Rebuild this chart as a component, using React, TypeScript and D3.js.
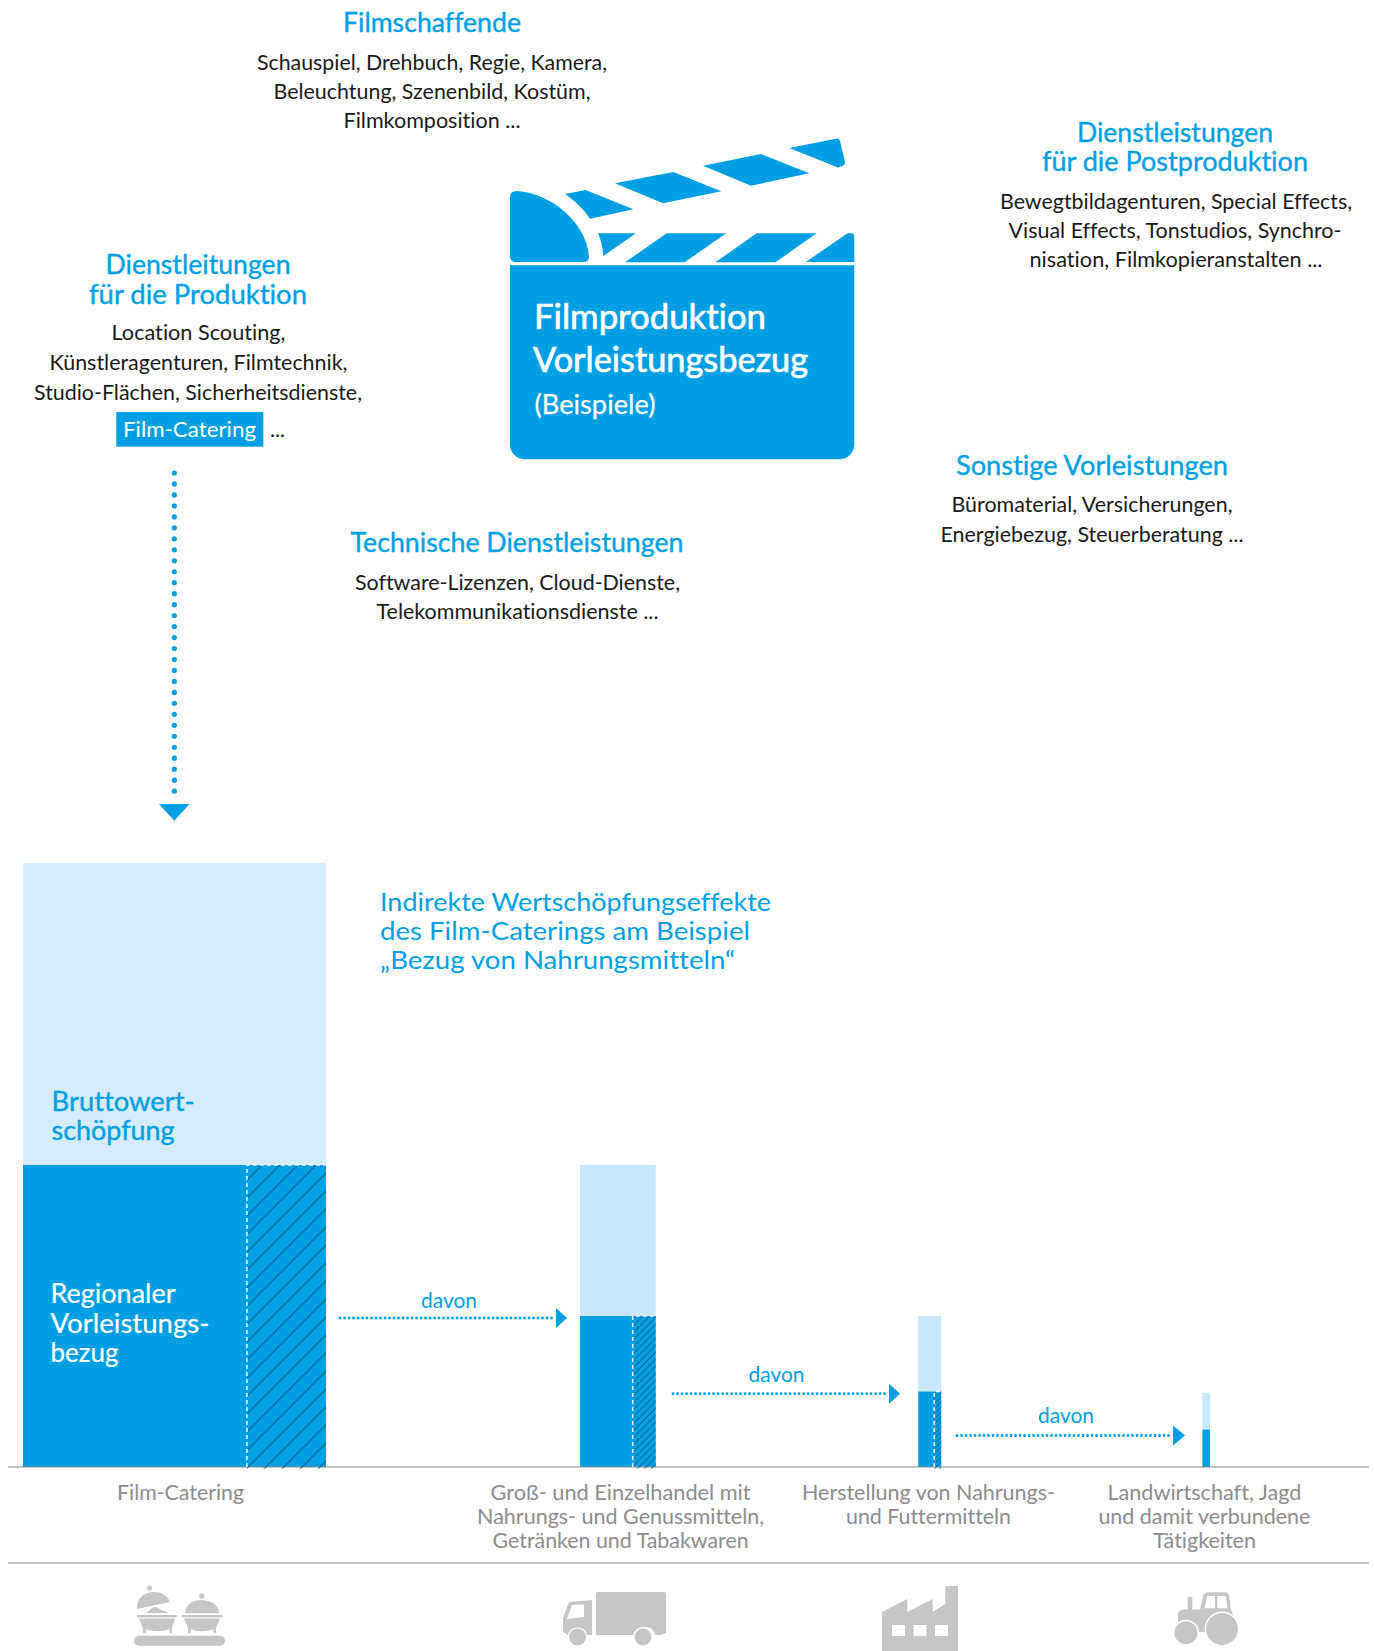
import React from "react";
import * as d3 from "d3";

// ---- data (index, Film-Catering = 100) ----
const categoryLines = [
  ["Film-Catering"],
  ["Groß- und Einzelhandel mit", "Nahrungs- und Genussmitteln,", "Getränken und Tabakwaren"],
  ["Herstellung von Nahrungs-", "und Futtermitteln"],
  ["Landwirtschaft, Jagd", "und damit verbundene", "Tätigkeiten"],
];
const bruttoValues = [100, 50, 25, 12.3];
const regionalValues = [50, 25, 12.5, 6.2];
const widthValues = [100, 25, 7.6, 2.5];
const hatchValues = [26.1, 7.6, 2.3, 0];

// ---- layout ----
const BLUE = "#009fe3";
const W = 1375, H = 1651;
const FONT = "Lato, 'Noto Sans', sans-serif";
const BASE = 1467;
const barLefts = [23, 580, 918.2, 1202.4];
const catCx = [180.5, 620.6, 928.5, 1204.4];
const catW = [[127], [260, 287, 256], [253, 165], [194, 212, 103]];
const lightFill = ["#d4ecfb", "#c9e7fa", "#c9e7fa", "#c9e7fa"];
const hatchSize = [18, 7, 5, 5];

const yScale = d3.scaleLinear().domain([0, 100]).range([BASE, 863]);
const wScale = d3.scaleLinear().domain([0, 100]).range([0, 303]);

function T({ x, y, w, size, fill = "#1a1a1a", anchor = "middle", heavy = 0, children }: any) {
  return (
    <text x={x} y={y} textAnchor={anchor} fontFamily={FONT} fontSize={size} fill={fill}
      stroke={heavy ? fill : "none"} strokeWidth={heavy}
      style={{ fontVariantLigatures: "none" }}
      textLength={w} lengthAdjust="spacingAndGlyphs">{children}</text>
  );
}

const clap = (pts: number[][]) => pts.map(([x, y]) => [480 + x / 3, 120 + y / 3]);
const poly = (pts: number[][]) => pts.map(p => p.join(",")).join(" ");

function Arrow({ x1, x2, tip, y }: any) {
  return (
    <g>
      <line x1={x1} x2={x2 - 3} y1={y} y2={y} stroke={BLUE} strokeWidth={2.8} strokeLinecap="round" strokeDasharray="0.1 4.4" />
      <polygon points={`${x2},${y - 10} ${tip},${y} ${x2},${y + 10}`} fill={BLUE} />
    </g>
  );
}

const blocks: any[] = [
  { l: "Filmschaffende", x: 432, y: 31.5, w: 178, s: 26, b: 1 },
  { l: "Schauspiel, Drehbuch, Regie, Kamera,", x: 432, y: 69.5, w: 350 },
  { l: "Beleuchtung, Szenenbild, Kostüm,", x: 432, y: 99, w: 317 },
  { l: "Filmkomposition ...", x: 432, y: 127.5, w: 177 },
  { l: "Dienstleistungen", x: 1175, y: 142, w: 196, s: 26, b: 1 },
  { l: "für die Postproduktion", x: 1175, y: 171, w: 266, s: 26, b: 1 },
  { l: "Bewegtbildagenturen, Special Effects,", x: 1176, y: 208.5, w: 352 },
  { l: "Visual Effects, Tonstudios, Synchro-", x: 1175, y: 238, w: 333 },
  { l: "nisation, Filmkopieranstalten ...", x: 1176, y: 266.5, w: 293 },
  { l: "Dienstleitungen", x: 198, y: 274, w: 185, s: 26, b: 1 },
  { l: "für die Produktion", x: 198, y: 304, w: 218, s: 26, b: 1 },
  { l: "Location Scouting,", x: 198.5, y: 340, w: 174 },
  { l: "Künstleragenturen, Filmtechnik,", x: 198.5, y: 369.5, w: 298 },
  { l: "Studio-Flächen, Sicherheitsdienste,", x: 198, y: 400, w: 328 },
  { l: "Technische Dienstleistungen", x: 517, y: 551.5, w: 333, s: 26, b: 1 },
  { l: "Software-Lizenzen, Cloud-Dienste,", x: 517.5, y: 589.5, w: 325 },
  { l: "Telekommunikationsdienste ...", x: 517.5, y: 619, w: 282 },
  { l: "Sonstige Vorleistungen", x: 1092, y: 475, w: 272, s: 26, b: 1 },
  { l: "Büromaterial, Versicherungen,", x: 1092, y: 512, w: 281 },
  { l: "Energiebezug, Steuerberatung ...", x: 1092, y: 542, w: 303 },
];

const headline = [
  { l: "Indirekte Wertschöpfungseffekte", y: 911, w: 391 },
  { l: "des Film-Caterings am Beispiel", y: 940, w: 370 },
  { l: "„Bezug von Nahrungsmitteln“", y: 969, w: 355 },
];

const davon = [
  { x: 449, y: 1308 },
  { x: 776.5, y: 1382 },
  { x: 1066, y: 1423 },
];

const dots = d3.range(473, 800, 10.97);

export default function App() {
  return (
    <svg width={W} height={H} viewBox={`0 0 ${W} ${H}`} style={{ position: "absolute", left: 0, top: 0, background: "#fff" }}>
      <defs>
        {hatchSize.map((s, i) => {
          const sw = i === 0 ? 1.3 : 1.1;
          return (
            <pattern key={i} id={`hatch${i}`} width={s} height={s} patternUnits="userSpaceOnUse" patternTransform={`translate(${barLefts[i]},0)`}>
              <line x1={-1} y1={s + 1} x2={s + 1} y2={-1} stroke="#0a6a9c" strokeWidth={sw} />
              <line x1={-1} y1={1} x2={1} y2={-1} stroke="#0a6a9c" strokeWidth={sw} />
              <line x1={s - 1} y1={s + 1} x2={s + 1} y2={s - 1} stroke="#0a6a9c" strokeWidth={sw} />
            </pattern>
          );
        })}
      </defs>

      {blocks.map((b, i) => (
        <T key={i} x={b.x} y={b.y} w={b.w} size={b.s ?? 22} fill={b.b ? BLUE : "#1a1a1a"} heavy={b.b ? 0.35 : 0}>{b.l}</T>
      ))}

      {/* Film-Catering highlight */}
      <rect x={116.3} y={412} width={147} height={34.7} fill={BLUE} />
      <T x={123} y={436.7} w={133} size={22} fill="#fff" anchor="start">Film-Catering</T>
      <T x={270} y={436.7} w={15} size={22} anchor="start">...</T>

      {/* dotted connector */}
      {dots.map((d, i) => <circle key={i} cx={174.3} cy={d} r={2.6} fill={BLUE} />)}
      <polygon points="159,804 189.5,804 174.3,820.7" fill={BLUE} />

      {/* clapperboard */}
      <path d={`M510,265.3 H854.3 V444.3 a15,15 0 0 1 -15,15 H525 a15,15 0 0 1 -15,-15 Z`} fill={BLUE} />
      <path d={`M510,197 Q510,191 517,191 C552,193 587,224 589,257 Q589,262 583,262 H516 Q510,262 510,256 Z`} fill={BLUE} />
      <polygon points={poly(clap([[560, 340], [738, 340], [614, 427], [435, 427]]))} fill={BLUE} />
      <polygon points={poly(clap([[830, 340], [1010, 340], [886, 427], [706, 427]]))} fill={BLUE} />
      <path d="M598,233.3 H636 L603.3,256 Q602.5,244 598,233.3 Z" fill={BLUE} />
      <path d="M845,235 Q847,233 850,233 Q854.3,233 854.3,237 V262 H805.7 Z" fill={BLUE} />
      <path d="M565,194 L585.7,190 L633.3,209.3 L590,218.7 Q580,204 565,194 Z" fill={BLUE} />
      <polygon points={poly(clap([[405, 190], [580, 156], [724, 214], [549, 250]]))} fill={BLUE} />
      <polygon points={poly(clap([[669, 137], [843, 102], [988, 160], [813, 197]]))} fill={BLUE} />
      <path d="M789.3,148 L837,138.5 Q839.5,138.5 840,141 L845,162 Q845.5,165 842,166 L838,167.5 Z" fill={BLUE} />
      <T x={534} y={329} w={232} size={35} fill="#fff" anchor="start" heavy={0.7}>Filmproduktion</T>
      <T x={533} y={372} w={275} size={35} fill="#fff" anchor="start" heavy={0.7}>Vorleistungsbezug</T>
      <T x={534.5} y={414} w={121} size={27} fill="#fff" anchor="start" heavy={0.25}>(Beispiele)</T>

      {/* headline */}
      {headline.map((h, i) => (
        <T key={i} x={380} y={h.y} w={h.w} size={25} fill={BLUE} anchor="start">{h.l}</T>
      ))}

      {/* bars */}
      {categoryLines.map((lines, i) => {
        const left = barLefts[i];
        const w = wScale(widthValues[i]);
        const hw = wScale(hatchValues[i]);
        const yB = yScale(bruttoValues[i]);
        const yR = yScale(regionalValues[i]);
        return (
          <g key={i}>
            <rect x={left} y={yB} width={w} height={yR - yB} fill={lightFill[i]} />
            <rect x={left} y={yR} width={w} height={BASE - yR} fill={BLUE} />
            {lines.map((l, j) => (
              <T key={j} x={catCx[i]} y={1499.5 + j * 24} w={catW[i][j]} size={21} fill="#8c8c8c">{l}</T>
            ))}
          </g>
        );
      })}

      {/* rules */}
      <line x1={8} x2={1369} y1={1467} y2={1467} stroke="#8a8a8a" strokeWidth={1.2} />
      <line x1={8} x2={1369} y1={1563} y2={1563} stroke="#8a8a8a" strokeWidth={1.2} />

      {/* hatched shares */}
      {categoryLines.map((_, i) => {
        const left = barLefts[i];
        const w = wScale(widthValues[i]);
        const hw = wScale(hatchValues[i]);
        const yR = yScale(regionalValues[i]);
        if (hw <= 0) return null;
        return (
          <g key={i}>
            <rect x={left + w - hw} y={yR} width={hw} height={BASE - yR + 1.5} fill={`url(#hatch${i})`} />
            <path d={`M${left + w - hw},${BASE} V${yR} H${left + w}`} fill="none" stroke="#fff" strokeWidth={1.6} strokeDasharray="4 3" opacity={0.9} />
          </g>
        );
      })}

      {/* bar labels */}
      <T x={51.6} y={1111} w={143} size={26} fill={BLUE} anchor="start" heavy={0.35}>Bruttowert-</T>
      <T x={51.6} y={1140} w={123} size={26} fill={BLUE} anchor="start" heavy={0.35}>schöpfung</T>
      <T x={50.5} y={1303} w={125} size={26} fill="#fff" anchor="start" heavy={0.2}>Regionaler</T>
      <T x={50.5} y={1333} w={159} size={26} fill="#fff" anchor="start" heavy={0.2}>Vorleistungs-</T>
      <T x={50.5} y={1362} w={68} size={26} fill="#fff" anchor="start" heavy={0.2}>bezug</T>

      {/* arrows */}
      <Arrow x1={340} x2={556} tip={567} y={1318} />
      <Arrow x1={673} x2={889} tip={900} y={1393.7} />
      <Arrow x1={957} x2={1173} tip={1185} y={1435.5} />
      {davon.map((d, i) => (
        <T key={i} x={d.x} y={d.y} w={56} size={22} fill={BLUE}>davon</T>
      ))}

      {/* icons */}
      <g fill="#c6c6c6">
        {/* catering */}
        <rect x={134} y={1635.7} width={91} height={10} rx={5} />
        <circle cx={149.4} cy={1588} r={2.6} />
        <path d="M137,1609 C136,1598 145,1592 154,1592 C163,1592 168,1597 170,1602 Z" />
        <path d="M145,1613 C149,1613 150,1607 155,1607 C159,1607 160,1611 165,1611 L169,1613 Z" />
        <rect x={137} y={1615} width={40} height={2.4} />
        <path d="M139,1618.5 H175 L172,1628 V1633 H169.5 V1629 C162,1632 152,1632 146,1629 V1633 H143 V1628 Z" />
        <circle cx={201.8} cy={1596} r={2.6} />
        <path d="M185,1613.3 C185,1605 193,1600 201,1600 C211,1600 219,1605 219,1613.3 Z" />
        <rect x={182} y={1615} width={40} height={2.4} />
        <path d="M184,1618.5 H220 L216,1628 V1633 H213.5 V1629 C206,1632 197,1632 191,1629 V1633 H188 V1628 Z" />
        {/* truck */}
        <path d="M596,1594 Q596,1592 598,1592 H664 Q666,1592 666,1594 V1633 L660,1635 H655 C654,1624 636,1624 633,1635 H596 Z" />
        <path fillRule="evenodd" d="M569,1602 L592,1600 V1635 H587 C585,1625 570,1625 568,1635 L563,1632 V1618 Z M572,1605 L567,1619 L584,1617 V1604.5 Z" />
        <circle cx={577.5} cy={1637} r={8.5} />
        <circle cx={643} cy={1637} r={8.5} />
        {/* factory */}
        <path fillRule="evenodd" d="M882,1612 L907.3,1599 V1612 L932.7,1599 V1612 L945.3,1604 V1586 H958 V1651 H882 Z M892,1625 V1636 H905 V1625 Z M913.5,1625 V1636 H926.5 V1625 Z M935,1625 V1636 H948 V1625 Z" />
        {/* tractor */}
        <rect x={1187.7} y={1597} width={4.6} height={14} rx={1} />
        <path fillRule="evenodd" d="M1200,1610 L1203.3,1595 L1206.7,1592.3 H1226.7 L1229.3,1595 L1231,1612 Z M1204.3,1608.3 H1215 V1596 H1207.3 Z M1217.3,1596 V1608.3 H1227.7 L1225.7,1596 Z" />
        <path d="M1178,1622 V1613 Q1179,1610 1184,1609.5 H1231 L1233,1615 L1205,1632 H1195 Z" />
        <circle cx={1186} cy={1632.7} r={12.3} stroke="#fff" strokeWidth={1.5} />
        <circle cx={1222} cy={1629} r={16.7} stroke="#fff" strokeWidth={1.5} />
      </g>
    </svg>
  );
}
